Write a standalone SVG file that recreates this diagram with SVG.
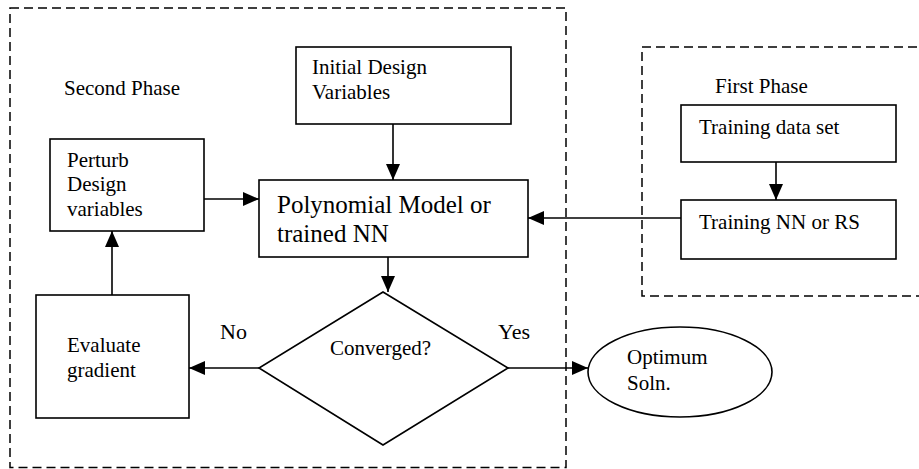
<svg xmlns="http://www.w3.org/2000/svg" width="919" height="469" viewBox="0 0 919 469">
  <style>
    .box { fill: #fff; stroke: #000; stroke-width: 1.6; }
    .phase { fill: none; stroke: #000; stroke-width: 1.5; stroke-dasharray: 9 5; }
    .edge { fill: none; stroke: #000; stroke-width: 1.6; marker-end: url(#arrow); }
    text { font-family: "Liberation Serif", "Times New Roman", serif; font-size: 21px; fill: #000; }
    .big { font-size: 25px; }
    .lbl { font-size: 22px; }
  </style>
  <defs>
    <marker id="arrow" viewBox="0 0 16 14" refX="16" refY="7" markerWidth="16" markerHeight="14" markerUnits="userSpaceOnUse" orient="auto">
      <path d="M0,0 L16,7 L0,14 Z" fill="#000"/>
    </marker>
  </defs>
  <rect width="919" height="469" fill="#fff"/>

  <!-- phase frames -->
  <g id="second-phase">
    <rect class="phase" x="10" y="8" width="556" height="459.5"/>
    <text x="64" y="95">Second Phase</text>
  </g>
  <g id="first-phase">
    <rect class="phase" x="642" y="47" width="290" height="249"/>
    <text x="715" y="93">First Phase</text>
  </g>

  <!-- connectors -->
  <g id="connectors">
    <line class="edge" x1="393" y1="124" x2="393" y2="180"/>
    <line class="edge" x1="204" y1="199" x2="259" y2="199"/>
    <line class="edge" x1="681" y1="218" x2="528" y2="218"/>
    <line class="edge" x1="776" y1="162" x2="776" y2="200"/>
    <line class="edge" x1="388" y1="257" x2="388" y2="292"/>
    <line class="edge" x1="259" y1="368" x2="189" y2="368"/>
    <line class="edge" x1="112" y1="295" x2="112" y2="231"/>
    <line class="edge" x1="508" y1="368" x2="588" y2="368"/>
  </g>

  <!-- nodes -->
  <g id="initial-design">
    <rect class="box" x="296" y="47" width="215" height="77"/>
    <text x="312" y="74">Initial Design</text>
    <text x="312" y="99">Variables</text>
  </g>
  <g id="perturb">
    <rect class="box" x="50" y="139" width="154" height="92"/>
    <text x="67" y="167">Perturb</text>
    <text x="67" y="191">Design</text>
    <text x="67" y="216">variables</text>
  </g>
  <g id="model">
    <rect class="box" x="259" y="180" width="269" height="77"/>
    <text class="big" x="277" y="213">Polynomial Model or</text>
    <text class="big" x="277" y="242">trained NN</text>
  </g>
  <g id="training-data">
    <rect class="box" x="681" y="105" width="215" height="57"/>
    <text x="699" y="134">Training data set</text>
  </g>
  <g id="training-nn">
    <rect class="box" x="681" y="200" width="215" height="59"/>
    <text x="699" y="229">Training NN or RS</text>
  </g>
  <g id="evaluate">
    <rect class="box" x="36" y="295" width="153" height="123"/>
    <text x="67" y="352">Evaluate</text>
    <text x="67" y="377">gradient</text>
  </g>
  <g id="converged">
    <polygon class="box" points="383,292 508,368 383,445 259,368"/>
    <text x="330" y="355">Converged?</text>
  </g>
  <g id="optimum">
    <ellipse class="box" cx="680" cy="372" rx="92" ry="45"/>
    <text x="627" y="364">Optimum</text>
    <text x="627" y="390">Soln.</text>
  </g>

  <!-- branch labels -->
  <g id="branch-labels">
    <text class="lbl" x="220" y="339">No</text>
    <text class="lbl" x="498" y="339">Yes</text>
  </g>
</svg>
